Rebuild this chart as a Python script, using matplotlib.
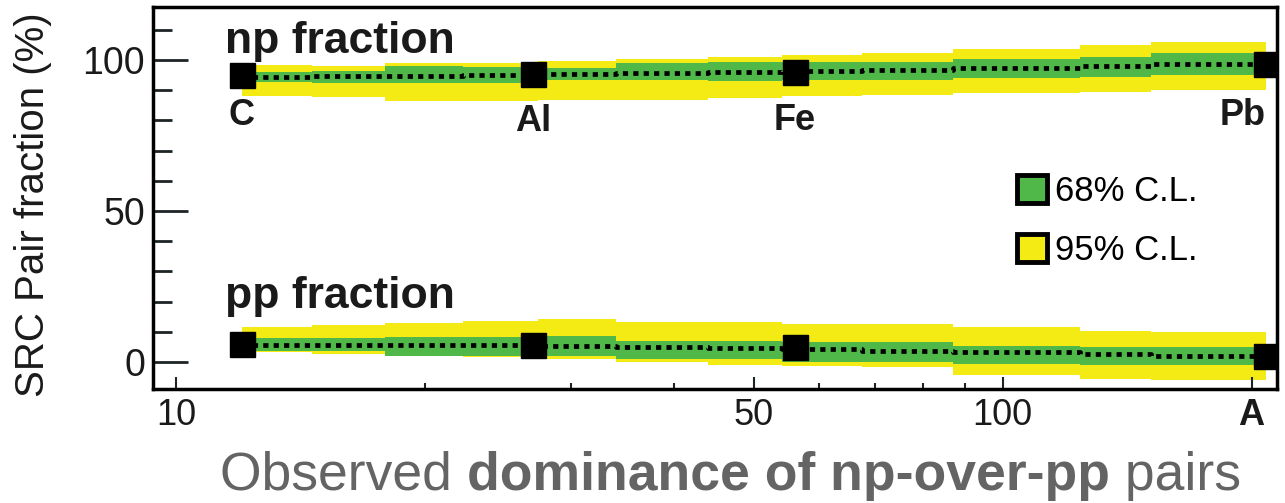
import numpy as np
import matplotlib.pyplot as plt
from matplotlib.patches import Patch
from matplotlib.ticker import FixedLocator, NullFormatter

plt.rcParams['font.family'] = ['Liberation Sans', 'DejaVu Sans']

# measured nuclei
nuclei = ['C', 'Al', 'Fe', 'Pb']
mass_number = [12, 27, 56, 208]
np_frac = [94.9, 95.5, 96.2, 98.8]
pp_frac = [5.8, 5.6, 4.8, 2.1]

# bins in A for the fitted bands
band_edges = [12, 14.6, 17.9, 22.2, 27.4, 34, 44, 54, 67.5, 87, 124, 151, 208]

np_mid = [94.5, 94.6, 94.8, 95.0, 95.5, 95.8, 96.0, 96.3, 96.8, 97.3, 98.0, 98.7]
np_68_lo = [92.7, 92.5, 92.3, 92.3, 93.3, 93.3, 93.0, 93.5, 93.5, 94.0, 94.5, 95.0]
np_68_hi = [96.2, 96.5, 98.0, 97.8, 97.3, 99.0, 99.4, 99.4, 99.5, 100.2, 101.1, 102.2]
np_95_lo = [88.0, 87.9, 86.5, 86.3, 86.8, 86.8, 87.3, 88.0, 88.4, 89.0, 89.5, 90.1]
np_95_hi = [98.3, 98.0, 99.0, 99.2, 99.8, 100.2, 101.0, 101.6, 102.5, 103.8, 105.0, 106.0]

pp_mid = [5.6, 5.6, 5.6, 5.6, 5.4, 5.0, 4.5, 4.2, 3.7, 3.2, 2.6, 2.1]
pp_68_lo = [3.7, 3.7, 2.1, 2.1, 2.1, 1.0, 1.0, -0.1, -0.1, -0.7, -1.2, -1.2]
pp_68_hi = [7.8, 7.8, 8.1, 8.1, 8.7, 7.0, 7.0, 6.5, 6.5, 5.4, 4.8, 4.8]
pp_95_lo = [3.2, 2.6, 2.0, 1.5, 1.0, 0.0, -1.0, -1.5, -1.8, -4.5, -5.6, -6.0]
pp_95_hi = [11.4, 12.2, 12.8, 13.6, 14.2, 13.1, 13.1, 12.5, 12.5, 11.4, 10.3, 9.8]

x_ticks = [10, 50, 100, 200]
x_tick_labels = ['10', '50', '100', 'A']
x_minor = [20, 30, 40, 60, 70, 80, 90]
y_ticks = [0, 50, 100]
y_minor = [10, 20, 30, 40, 60, 70, 80, 90, 110]

green = '#50b848'
yellow = '#f5eb14'


def closed(v):
    return np.append(v, v[-1])


fig = plt.figure(figsize=(12.85, 5.03), dpi=100)
ax = fig.add_axes([0.1193, 0.2260, 0.8742, 0.7607])

for lo95, hi95, lo68, hi68, mid in [(np_95_lo, np_95_hi, np_68_lo, np_68_hi, np_mid),
                                    (pp_95_lo, pp_95_hi, pp_68_lo, pp_68_hi, pp_mid)]:
    ax.fill_between(band_edges, closed(lo95), closed(hi95), step='post',
                    color=yellow, lw=0, zorder=1)
    ax.fill_between(band_edges, closed(lo68), closed(hi68), step='post',
                    color=green, lw=0, zorder=2)
    ax.plot(band_edges, closed(mid), drawstyle='steps-post', color='black',
            lw=3.4, linestyle=(0, (1.1, 1.1)), zorder=3)

ax.plot(mass_number, np_frac, 's', color='black', ms=18, zorder=4)
ax.plot(mass_number, pp_frac, 's', color='black', ms=18, zorder=4)

ax.set_xscale('log')
ax.set_xlim(9.38, 214.5)
ax.set_ylim(-9.1, 117.7)

ax.xaxis.set_major_locator(FixedLocator(x_ticks))
ax.set_xticklabels(x_tick_labels)
ax.xaxis.set_minor_locator(FixedLocator(x_minor))
ax.xaxis.set_minor_formatter(NullFormatter())
ax.get_xticklabels()[-1].set_fontweight('bold')

ax.yaxis.set_major_locator(FixedLocator(y_ticks))
ax.yaxis.set_minor_locator(FixedLocator(y_minor))

tick_color = '#1c2426'
ax.tick_params(axis='y', which='major', direction='in', length=25, width=2,
               color=tick_color, labelsize=27, labelcolor='#1a1a1a', pad=6)
ax.tick_params(axis='y', which='minor', direction='in', length=13.5, width=2,
               color=tick_color)
ax.tick_params(axis='x', which='major', direction='in', length=9, width=1.5,
               color=tick_color, labelsize=26, labelcolor='#1a1a1a', pad=6)
ax.tick_params(axis='x', which='minor', direction='in', length=4.5, width=1.5,
               color=tick_color)

for sp in ax.spines.values():
    sp.set_linewidth(2.5)
    sp.set_color('black')

# element names next to the markers
label_y = [81.8, 79.8, 80.1, 81.8]
for name, a, y in zip(nuclei, mass_number, label_y):
    ha = 'right' if name == 'Pb' else 'center'
    ax.text(a, y, name, ha=ha, va='center', fontsize=26, fontweight='bold',
            color='#1a1a1a', zorder=5)

ax.text(11.45, 102.3, 'np fraction', fontsize=32, fontweight='bold',
        color='#1a1a1a', va='baseline')
ax.text(11.45, 18.0, 'pp fraction', fontsize=32, fontweight='bold',
        color='#1a1a1a', va='baseline')

handles = [Patch(facecolor=green, edgecolor='black', lw=3.5, label='68% C.L.'),
           Patch(facecolor=yellow, edgecolor='black', lw=3.5, label='95% C.L.')]
ax.legend(handles=handles, loc='upper left', bbox_to_anchor=(0.769, 0.56),
          frameon=False, fontsize=25, handlelength=0.85, handleheight=0.85,
          handletextpad=0.25, labelspacing=0.75, borderpad=0, borderaxespad=0)

fig.text(33 / 1285, 1 - 205 / 503, 'SRC Pair fraction (%)', rotation=90,
         ha='center', va='center', fontsize=29, color='#1a1a1a')

# x axis title with a bold middle part
fig.canvas.draw()
renderer = fig.canvas.get_renderer()
x = 220 / 1285
base = 1 - 490 / 503
for part, weight in [('Observed ', 'normal'),
                     ('dominance of np-over-pp', 'bold'),
                     (' pairs', 'normal')]:
    t = fig.text(x, base, part, fontsize=38.5, fontweight=weight,
                 color='#646464', va='baseline', ha='left')
    bb = t.get_window_extent(renderer)
    x += bb.width / fig.bbox.width

fig.savefig('out.png', dpi=100)
